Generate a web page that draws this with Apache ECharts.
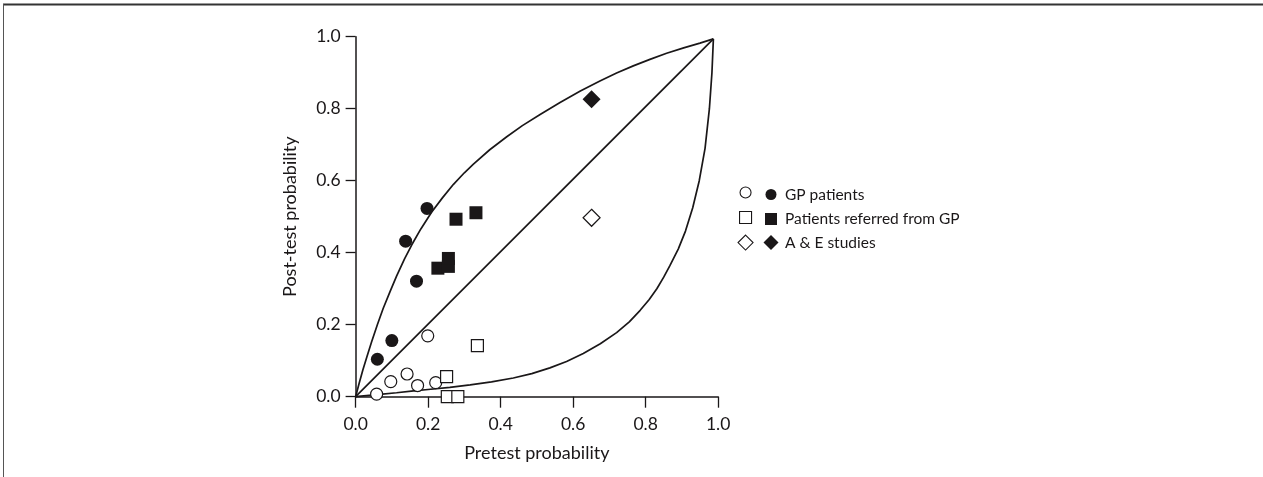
<!DOCTYPE html>
<html>
<head>
<meta charset="utf-8">
<title>Pretest vs post-test probability</title>
<script src="https://cdn.jsdelivr.net/npm/echarts/dist/echarts.min.js"></script>
<style>
  html, body { margin: 0; padding: 0; background: #ffffff; }
  #chart { width: 1263px; height: 477px; }
</style>
</head>
<body>
<div id="chart"></div>
<script>
// Study points: [pretest probability, post-test probability]
const gpOpen = [[0.058, 0.007], [0.097, 0.042], [0.142, 0.063], [0.171, 0.031], [0.221, 0.039], [0.199, 0.169]];
const gpFilled = [[0.060, 0.104], [0.100, 0.156], [0.168, 0.321], [0.138, 0.432], [0.197, 0.523]];
const referredOpen = [[0.251, 0.056], [0.253, 0.000], [0.282, 0.000], [0.336, 0.142]];
const referredFilled = [[0.227, 0.357], [0.256, 0.362], [0.256, 0.384], [0.277, 0.493], [0.332, 0.511]];
const aeOpen = [[0.651, 0.497]];
const aeFilled = [[0.651, 0.826]];

// Reference curves drawn on the plot
const upperCurve = [[0, 0], [0.010, 0.038], [0.020, 0.074], [0.031, 0.110], [0.044, 0.152], [0.060, 0.200], [0.076, 0.245], [0.095, 0.292], [0.113, 0.335], [0.135, 0.383], [0.155, 0.422], [0.180, 0.466], [0.210, 0.513], [0.240, 0.553], [0.270, 0.590], [0.300, 0.622], [0.325, 0.646], [0.370, 0.686], [0.417, 0.722], [0.460, 0.753], [0.509, 0.784], [0.564, 0.817], [0.620, 0.849], [0.674, 0.877], [0.720, 0.899], [0.766, 0.919], [0.812, 0.937], [0.858, 0.954], [0.905, 0.969], [0.950, 0.982], [0.987, 0.994]];
const diagonalLine = [[0, 0], [0.987, 0.994]];
const lowerCurve = [[0, 0], [0.060, 0.006], [0.113, 0.011], [0.160, 0.016], [0.200, 0.020], [0.260, 0.026], [0.316, 0.033], [0.375, 0.041], [0.435, 0.052], [0.486, 0.064], [0.536, 0.080], [0.582, 0.098], [0.628, 0.120], [0.675, 0.147], [0.720, 0.178], [0.755, 0.208], [0.785, 0.240], [0.810, 0.270], [0.831, 0.300], [0.850, 0.332], [0.867, 0.364], [0.890, 0.410], [0.910, 0.460], [0.930, 0.525], [0.948, 0.600], [0.964, 0.690], [0.976, 0.800], [0.983, 0.900], [0.987, 0.994]];

// Axis ticks
const tickValues = [0, 0.2, 0.4, 0.6, 0.8, 1.0];

// Legend rows: [open series name, filled series name, label]
const legendRows = [
  ['GP patients (open)', 'GP patients', 'GP patients'],
  ['Patients referred from GP (open)', 'Patients referred from GP', 'Patients referred from GP'],
  ['A & E studies (open)', 'A & E studies', 'A & E studies']
];

const INK = '#1a1718';
const FONT = 'Lato, "Open Sans", sans-serif';

const openStyle = { color: '#ffffff', borderColor: INK, borderWidth: 1.2, opacity: 1 };
const filledStyle = { color: INK, borderWidth: 0, opacity: 1 };

function scatter(name, data, symbol, size, style) {
  return {
    name: name, type: 'scatter', data: data, symbol: symbol, symbolSize: size,
    itemStyle: style, clip: false, z: 5
  };
}
function curve(name, data) {
  return {
    name: name, type: 'line', data: data, showSymbol: false, symbol: 'none',
    smooth: false, clip: false, z: 2,
    lineStyle: { color: INK, width: 1.7 }, silent: true
  };
}

const legendTops = [185, 210, 235];
const legends = [];
legendRows.forEach(function (row, i) {
  const sym = i === 0 ? 'circle' : (i === 1 ? 'rect' : 'diamond');
  const sz = i === 2 ? 15 : (i === 1 ? 12 : 11);
  legends.push({
    data: [{ name: row[0], icon: sym }], left: 745 - sz / 2, top: legendTops[i] + 7 - sz / 2,
    itemWidth: sz, itemHeight: sz, itemGap: 0, padding: 0, selectedMode: false,
    formatter: function () { return ''; },
    itemStyle: { color: '#ffffff', borderColor: INK, borderWidth: 1.1, opacity: 1 },
    textStyle: { fontSize: 1 }
  });
  legends.push({
    data: [{ name: row[1], icon: sym }], left: 771 - sz / 2, top: legendTops[i] + 7 - sz / 2,
    itemWidth: sz, itemHeight: sz, itemGap: 0, padding: 0, selectedMode: false,
    formatter: function () { return row[2]; },
    itemStyle: { color: INK, borderWidth: 0, opacity: 1 },
    textStyle: { fontSize: 15.5, fontFamily: FONT, color: INK, padding: [0, 0, 0, 785 - 771 - sz / 2 - 5] }
  });
});

const chart = echarts.init(document.getElementById('chart'), null, { renderer: 'canvas' });
chart.setOption({
  backgroundColor: '#ffffff',
  animation: false,
  grid: { left: 355.6, right: 544.9, top: 36.7, bottom: 80.3, containLabel: false },
  legend: legends,
  xAxis: {
    type: 'value', min: 0, max: 1, interval: 0.2,
    name: 'Pretest probability', nameLocation: 'middle', nameGap: 47,
    nameTextStyle: { fontSize: 18, fontFamily: FONT, color: INK },
    axisLine: { lineStyle: { color: INK, width: 1.5 } },
    axisTick: { show: true, length: 11, lineStyle: { color: INK, width: 1.3 } },
    axisLabel: { fontSize: 17.5, fontFamily: FONT, color: INK, margin: 19, formatter: function (v) { return v.toFixed(1); } },
    splitLine: { show: false }
  },
  yAxis: {
    type: 'value', min: 0, max: 1, interval: 0.2,
    name: 'Post-test probability', nameLocation: 'middle', nameGap: 56, nameRotate: 90,
    nameTextStyle: { fontSize: 18, fontFamily: FONT, color: INK },
    axisLine: { lineStyle: { color: INK, width: 1.5 } },
    axisTick: { show: true, length: 10, lineStyle: { color: INK, width: 1.3 } },
    axisLabel: { fontSize: 17.5, fontFamily: FONT, color: INK, margin: 15, formatter: function (v) { return v.toFixed(1); } },
    splitLine: { show: false }
  },
  graphic: [
    { type: 'line', shape: { x1: 3, y1: 4.5, x2: 1263, y2: 4.5 }, style: { stroke: '#333333', lineWidth: 2 }, silent: true },
    { type: 'line', shape: { x1: 3.5, y1: 4, x2: 3.5, y2: 477 }, style: { stroke: '#555555', lineWidth: 1 }, silent: true }
  ],
  series: [
    curve('Upper curve', upperCurve),
    curve('Diagonal', diagonalLine),
    curve('Lower curve', lowerCurve),
    scatter('GP patients (open)', gpOpen, 'circle', 12, openStyle),
    scatter('GP patients', gpFilled, 'circle', 13, filledStyle),
    scatter('Patients referred from GP (open)', referredOpen, 'rect', 12, openStyle),
    scatter('Patients referred from GP', referredFilled, 'rect', 13, filledStyle),
    scatter('A & E studies (open)', aeOpen, 'diamond', 17, openStyle),
    scatter('A & E studies', aeFilled, 'diamond', 18, filledStyle)
  ]
});
</script>
</body>
</html>
